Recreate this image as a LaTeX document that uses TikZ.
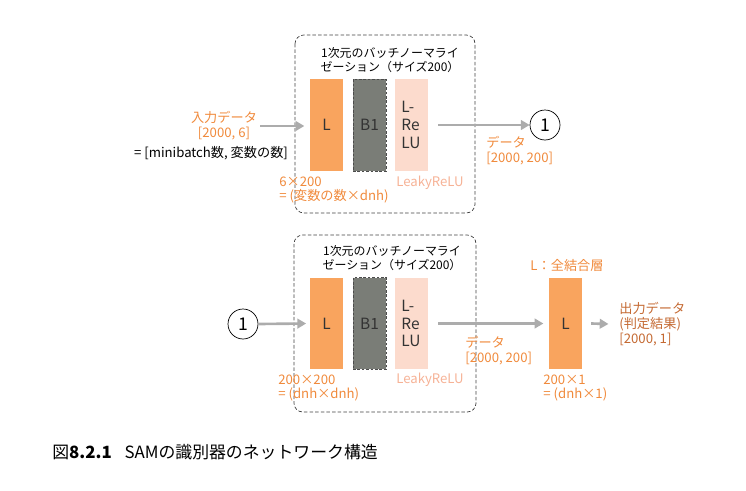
\documentclass[tikz,border=0pt]{standalone}
\usepackage{fontspec}
\setmainfont{Noto Sans CJK JP}
\usepackage{tikz}
\usetikzlibrary{arrows.meta}
\definecolor{boxorange}{RGB}{249,164,94}
\definecolor{txtorange}{RGB}{240,138,60}
\definecolor{txtbrown}{RGB}{196,105,50}
\definecolor{reluorange}{RGB}{246,178,150}
\definecolor{pinkfill}{RGB}{252,219,205}
\definecolor{grayfill}{RGB}{122,125,119}
\definecolor{arrgray}{RGB}{172,172,172}

\begin{document}
\begin{tikzpicture}[x=0.02cm,y=-0.02cm,
    layer/.style={minimum width=0.66cm,minimum height=1.84cm,inner sep=0pt,
      text=black!80,font=\fontsize{8.8}{10}\selectfont},
    lin/.style={layer,fill=boxorange},
    bn/.style={layer,fill=grayfill,draw=black!70,dash pattern=on 1.5pt off 1pt,very thin},
    relu/.style={layer,fill=pinkfill,align=left},
    lbl/.style={inner sep=0pt,font=\fontsize{7.5}{8.4}\selectfont},
    ttl/.style={inner sep=0pt,align=center,font=\fontsize{6.8}{8}\selectfont},
    grp/.style={draw=black!75,dash pattern=on 2pt off 1.2pt,thin,rounded corners=5pt},
    flow/.style={draw=arrgray,line width=1.5pt,-{Triangle[length=5pt,width=5.5pt]}},
    ref/.style={draw,circle,thin,minimum size=0.6cm,inner sep=0pt,font=\fontsize{10}{10}\selectfont}]
      \useasboundingbox (0,0) rectangle (746,490);

      % upper block
      \draw[grp] (295,35) rectangle (475,213);
      \node (t1) at (390,60) [ttl] {1次元のバッチノーマライ\\ゼーション（サイズ200）};
      \node (l1) at (326.5,125) [lin] {L};
      \node (b1) at (369.5,125) [bn] {B1};
      \node (r1) at (411,125) [relu] {L-\\Re\\LU};
      \node (in) at (224,126) [lbl,text=txtorange,align=center] {入力データ\\{}[2000, 6]};
      \node (inshape) at (211,153) [lbl] {= [minibatch数, 変数の数]};
      \coordinate (inend) at (260,126);
      \node (w1) at (279,190) [lbl,anchor=west,align=left,text=txtorange] {6×200\\= (変数の数×dnh)};
      \node (lk1) at (430,183) [lbl,text=reluorange] {LeakyReLU};
      \node (c1) at (545,125) [ref] {1};
      \node (d1) at (486,151) [lbl,anchor=west,align=left,text=txtorange] {データ\\{}[2000, 200]};

      \path[flow] (inend) -- ([xshift=-3pt]l1.west |- inend);
      \path[flow] ([xshift=6pt]r1.east) -- (c1.west);

      % lower block
      \draw[grp] (294,235) rectangle (476,412);
      \node (t2) at (392,258) [ttl] {1次元のバッチノーマライ\\ゼーション（サイズ200）};
      \node (c2) at (243,324) [ref] {1};
      \node (l2) at (326.5,323.5) [lin] {L};
      \node (b2) at (369.5,323.5) [bn] {B1};
      \node (r2) at (411,323.5) [relu] {L-\\Re\\LU};
      \node (w2) at (278,388) [lbl,anchor=west,align=left,text=txtorange] {200×200\\= (dnh×dnh)};
      \node (lk2) at (430,380) [lbl,text=reluorange] {LeakyReLU};
      \node (d2) at (465,350.5) [lbl,anchor=west,align=left,text=txtorange] {データ\\{}[2000, 200]};
      \node (fcname) at (567,265) [lbl,text=txtorange] {L：全結合層};
      \node (l3) at (565.5,323.5) [lin] {L};
      \node (w3) at (543,388) [lbl,anchor=west,align=left,text=txtorange] {200×1\\= (dnh×1)};
      \node (out) at (619,324) [lbl,anchor=west,align=left,text=txtbrown] {出力データ\\(判定結果)\\{}[2000, 1]};

      \path[flow] (c2.east) -- ([xshift=-2pt]l2.west);
      \path[flow] ([xshift=6pt]r2.east) -- ([xshift=-3pt]l3.west);
      \path[flow] ([xshift=5pt]l3.east) -- ([xshift=-6pt]out.west);

      % caption
      \node (cap) at (52,452) [anchor=west,inner sep=0pt,font=\fontsize{9.6}{12}\selectfont]
        {図\textbf{8.2.1}\hspace{0.75em}SAMの識別器のネットワーク構造};
\end{tikzpicture}
\end{document}
